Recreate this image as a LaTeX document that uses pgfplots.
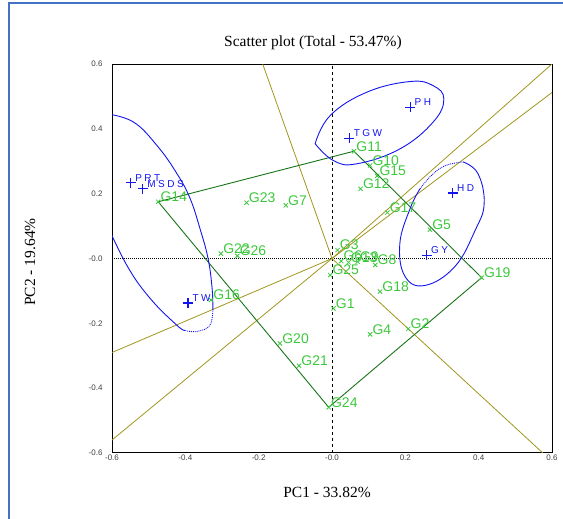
\documentclass[border=0pt]{standalone}
\usepackage{fontspec}
\setmainfont{Liberation Serif}
\newfontfamily\lsans{Liberation Sans}
\newfontfamily\lsansw[LetterSpace=25]{Liberation Sans}
\usepackage{pgfplots}
\pgfplotsset{compat=1.18}
\definecolor{gr}{RGB}{60,200,60}
\definecolor{dg}{RGB}{25,115,25}
\definecolor{ol}{RGB}{160,150,30}
\definecolor{bord}{RGB}{68,114,196}
\definecolor{vb}{RGB}{20,20,240}
\begin{document}
\begin{tikzpicture}
\useasboundingbox (0pt,0pt) rectangle (563pt,519pt);
\draw[bord, line width=2pt] (9pt,0pt) -- (9pt,516pt) -- (563pt,516pt);
\begin{axis}[
  at={(112pt,66pt)}, anchor=south west, scale only axis,
  width=440pt, height=389pt,
  xmin=-0.6, xmax=0.6, ymin=-0.6, ymax=0.6,
  xtick={-0.6,-0.4,-0.2,0,0.2,0.4,0.6},
  ytick={-0.6,-0.4,-0.2,0,0.2,0.4,0.6},
  xticklabels={-0.6,-0.4,-0.2,-0.0,0.2,0.4,0.6},
  yticklabels={-0.6,-0.4,-0.2,-0.0,0.2,0.4,0.6},
  major tick length=0pt,
  tick label style={font=\lsans\fontsize{8}{8}\selectfont, text=black!75},
  xticklabel style={yshift=2pt},
  yticklabel style={xshift=-6pt},
  axis line style={black, line width=1pt},
  clip=true,
]
% reference lines
\addplot[black, dashed, line width=0.8pt] coordinates {(0,-0.6) (0,0.6)};
\addplot[black, densely dotted, line width=1pt] coordinates {(-0.6,0) (0.6,0)};
% sector rays
\addplot[ol, line width=0.8pt] coordinates {(0,0) (-0.189,0.6)};
\addplot[ol, line width=0.8pt] coordinates {(0,0) (0.575,-0.6)};
\addplot[ol, line width=0.8pt] coordinates {(0,0) (0.6,0.6)};
\addplot[ol, line width=0.8pt] coordinates {(0,0) (0.6,0.512)};
\addplot[ol, line width=0.8pt] coordinates {(0,0) (-0.6,-0.29)};
\addplot[ol, line width=0.8pt] coordinates {(0,0) (-0.6,-0.56)};
% polygon
\addplot[dg, line width=0.9pt] coordinates {(-0.474,0.175) (0.060,0.331) (0.408,-0.059) (-0.009,-0.459) (-0.474,0.175)};
% ellipses
\addplot[vb, line width=0.9pt, smooth, tension=0.7] coordinates {
(-0.046,0.354) (0.004,0.302) (0.067,0.292) (0.185,0.338) (0.276,0.421) (0.305,0.492)
(0.276,0.533) (0.213,0.546) (0.095,0.513) (-0.005,0.441) (-0.046,0.354)};
\addplot[vb, line width=0.9pt, smooth, tension=0.7] coordinates {
(0.357,0.298) (0.398,0.262) (0.415,0.169) (0.390,0.086) (0.335,-0.025) (0.254,-0.083)
(0.199,-0.055) (0.185,0.046) (0.213,0.154) (0.240,0.215)};
\addplot[vb, line width=0.9pt, densely dotted, smooth, tension=0.7] coordinates {
(0.240,0.215) (0.270,0.255) (0.308,0.286) (0.357,0.298)};
\addplot[vb, line width=0.9pt, smooth, tension=0.7] coordinates {
(-0.62,0.447) (-0.543,0.422) (-0.477,0.348) (-0.423,0.262) (-0.387,0.185) (-0.36,0.092)
(-0.338,0.0) (-0.327,-0.092) (-0.325,-0.157)};
\addplot[vb, line width=0.9pt, densely dotted, smooth, tension=0.7] coordinates {
(-0.325,-0.157) (-0.333,-0.206) (-0.368,-0.225) (-0.401,-0.222)};
\addplot[vb, line width=0.9pt, smooth, tension=0.7] coordinates {
(-0.401,-0.222) (-0.423,-0.206) (-0.496,-0.123) (-0.559,-0.022) (-0.62,0.12)};
% genotypes
\addplot[only marks, mark=x, mark size=3pt, color=gr, mark options={draw=gr, line width=0.8pt},
  nodes near coords, point meta=explicit symbolic,
  every node near coord/.append style={font=\lsans\fontsize{14}{14}\selectfont, text=gr, anchor=west, xshift=2pt, yshift=5pt, inner sep=0pt}]
  table[meta=lab, row sep=\\] {
x y lab\\
0.004 -0.154 G1\\
0.208 -0.217 G2\\
0.015 0.026 G3\\
0.104 -0.234 G4\\
0.267 0.089 G5\\
0.025 -0.008 G6\\
-0.126 0.164 G7\\
0.118 -0.020 G8\\
0.070 -0.010 G9\\
0.104 0.287 G10\\
0.060 0.331 G11\\
0.078 0.215 G12\\
0.045 -0.012 G13\\
-0.474 0.175 G14\\
0.123 0.255 G15\\
-0.330 -0.128 G16\\
0.151 0.142 G17\\
0.131 -0.102 G18\\
0.408 -0.059 G19\\
-0.142 -0.262 G20\\
-0.090 -0.331 G21\\
-0.303 0.015 G22\\
-0.233 0.172 G23\\
-0.009 -0.459 G24\\
-0.005 -0.051 G25\\
-0.258 0.008 G26\\
};
% variables
\addplot[only marks, mark=+, mark size=5pt, color=vb, mark options={draw=vb, line width=1.2pt},
  nodes near coords, point meta=explicit symbolic,
  every node near coord/.append style={font=\lsansw\fontsize{10}{10}\selectfont, text=vb, anchor=west, xshift=4pt, yshift=5pt, inner sep=0pt}]
  table[meta=lab, row sep=\\] {
x y lab\\
-0.549 0.234 PRT\\
-0.516 0.215 MSDS\\
-0.393 -0.137 TW\\
0.047 0.371 TGW\\
0.213 0.467 PH\\
0.329 0.202 HD\\
0.258 0.010 GY\\
};
\end{axis}
\node[font=\fontsize{15.5}{15.5}\selectfont] at (313pt,476pt) {Scatter plot (Total - 53.47\%)};
\node[font=\fontsize{15.5}{15.5}\selectfont] at (327pt,27pt) {PC1 - 33.82\%};
\node[font=\fontsize{15.5}{15.5}\selectfont, rotate=90] at (30pt,257pt) {PC2 - 19.64\%};
\end{tikzpicture}
\end{document}
